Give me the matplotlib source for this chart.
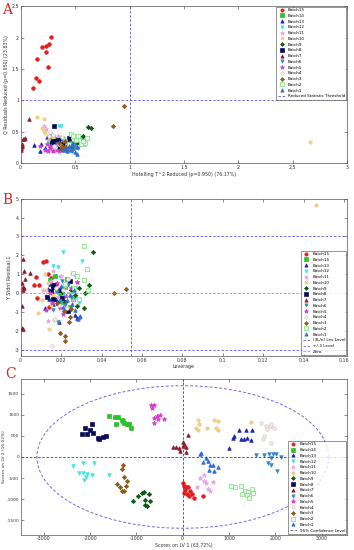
import numpy as np
import matplotlib
matplotlib.use("Agg")
import matplotlib.pyplot as plt
from matplotlib.ticker import FormatStrFormatter

plt.rcParams['axes.unicode_minus'] = False

# batch names, legend order
batches = ['Batch15', 'Batch14', 'Batch13', 'Batch12', 'Batch11', 'Batch10', 'Batch9',
           'Batch8', 'Batch7', 'Batch6', 'Batch5', 'Batch4', 'Batch3', 'Batch2', 'Batch1']

# ---- panel A : Hotelling T2 reduced vs Q residuals reduced
a_t2 = {
    'Batch15': [0.275, 0.263, 0.233, 0.199, 0.230, 0.147, 0.254, 0.138, 0.168, 0.116],
    'Batch14': [0.28, 0.29, 0.30, 0.33, 0.27, 0.35, 0.31, 0.26, 0.38, 0.34],
    'Batch13': [0.12, 0.19, 0.24, 0.27, 0.22, 0.30, 0.35, 0.18, 0.27, 0.32],
    'Batch12': [0.35, 0.37, 0.45, 0.52, 0.48, 0.42, 0.55, 0.40, 0.50, 0.46],
    'Batch11': [0.21, 0.23, 0.27, 0.32, 0.36, 0.29, 0.41, 0.25, 0.34, 0.38],
    'Batch10': [0.15, 0.21, 0.20, 0.21, 0.22, 0.30, 0.35, 0.40, 0.45, 2.66],
    'Batch9':  [0.615, 0.65, 0.575, 0.57, 0.48, 0.44, 0.40, 0.52, 0.36, 0.46],
    'Batch8':  [0.306, 0.30, 0.32, 0.38, 0.42, 0.44, 0.34, 0.29, 0.40, 0.36],
    'Batch7':  [0.08, 0.04, 0.03, 0.02, 0.01, 0.012, 0.005, 0.0, 0.006, 0.015],
    'Batch6':  [0.44, 0.47, 0.50, 0.42, 0.36, 0.53, 0.39, 0.46, 0.33, 0.49],
    'Batch5':  [0.25, 0.30, 0.18, 0.22, 0.27, 0.33, 0.35, 0.24, 0.28, 0.38],
    'Batch4':  [0.27, 0.30, 0.45, 0.41, 0.35, 0.38, 0.31, 0.26, 0.43, 0.48],
    'Batch3':  [0.95, 0.845, 0.40, 0.42, 0.38, 0.44, 0.35, 0.41, 0.37, 0.43],
    'Batch2':  [0.61, 0.58, 0.59, 0.46, 0.48, 0.51, 0.55, 0.44, 0.53, 0.57],
    'Batch1':  [0.52, 0.50, 0.46, 0.48, 0.43, 0.41, 0.47, 0.52, 0.44, 0.39],
}
a_q = {
    'Batch15': [2.01, 1.894, 1.868, 1.847, 1.772, 1.651, 1.534, 1.349, 1.307, 1.190],
    'Batch14': [0.40, 0.37, 0.42, 0.39, 0.35, 0.37, 0.33, 0.38, 0.40, 0.32],
    'Batch13': [0.29, 0.31, 0.42, 0.46, 0.24, 0.22, 0.26, 0.20, 0.29, 0.31],
    'Batch12': [0.59, 0.59, 0.39, 0.32, 0.28, 0.33, 0.41, 0.38, 0.36, 0.25],
    'Batch11': [0.60, 0.55, 0.30, 0.27, 0.35, 0.25, 0.31, 0.37, 0.43, 0.22],
    'Batch10': [0.73, 0.70, 0.56, 0.52, 0.49, 0.40, 0.35, 0.30, 0.28, 0.34],
    'Batch9':  [0.58, 0.555, 0.43, 0.37, 0.30, 0.35, 0.27, 0.33, 0.38, 0.24],
    'Batch8':  [0.59, 0.35, 0.36, 0.30, 0.28, 0.40, 0.37, 0.33, 0.32, 0.25],
    'Batch7':  [0.71, 0.40, 0.39, 0.38, 0.30, 0.27, 0.24, 0.22, 0.25, 0.28],
    'Batch6':  [0.22, 0.20, 0.26, 0.31, 0.28, 0.24, 0.35, 0.33, 0.30, 0.29],
    'Batch5':  [0.19, 0.19, 0.27, 0.21, 0.24, 0.21, 0.19, 0.31, 0.28, 0.25],
    'Batch4':  [0.50, 0.45, 0.46, 0.37, 0.31, 0.42, 0.27, 0.43, 0.29, 0.40],
    'Batch3':  [0.91, 0.60, 0.25, 0.22, 0.28, 0.30, 0.33, 0.35, 0.23, 0.27],
    'Batch2':  [0.41, 0.30, 0.32, 0.47, 0.43, 0.37, 0.30, 0.31, 0.44, 0.36],
    'Batch1':  [0.15, 0.18, 0.22, 0.25, 0.20, 0.24, 0.31, 0.26, 0.28, 0.21],
}

# ---- panel B : leverage vs Y studentized residual
b_lev = {
    'Batch15': [0.011, 0.0126, 0.0076, 0.0092, 0.0066, 0.0082, 0.0137, 0.0142, 0.015, 0.0175],
    'Batch14': [0.0145, 0.017, 0.0178, 0.0219, 0.021, 0.0244, 0.016, 0.023, 0.0195, 0.026],
    'Batch13': [0.0134, 0.012, 0.0141, 0.0155, 0.019, 0.0269, 0.028, 0.016, 0.0145, 0.0175],
    'Batch12': [0.0211, 0.0161, 0.0184, 0.0302, 0.0196, 0.0236, 0.025, 0.0275, 0.0286, 0.021],
    'Batch11': [0.0161, 0.0137, 0.0110, 0.0277, 0.0185, 0.0152, 0.022, 0.0125, 0.026, 0.020],
    'Batch10': [0.146, 0.012, 0.0087, 0.014, 0.0107, 0.0125, 0.016, 0.0135, 0.0185, 0.015],
    'Batch9':  [0.036, 0.034, 0.0318, 0.0313, 0.027, 0.025, 0.029, 0.022, 0.0205, 0.028],
    'Batch8':  [0.0244, 0.0166, 0.0161, 0.0206, 0.0185, 0.0234, 0.0162, 0.0152, 0.019, 0.013],
    'Batch7':  [0.001, 0.0016, 0.0021, 0.0046, 0.0005, 0.001, 0.0013, 0.0016, 0.0005, 0.0005, 0.001],
    'Batch6':  [0.0186, 0.0195, 0.022, 0.025, 0.018, 0.0235, 0.016, 0.027, 0.0205, 0.021],
    'Batch5':  [0.0275, 0.0278, 0.0195, 0.0125, 0.0155, 0.0225, 0.018, 0.0145, 0.025, 0.021],
    'Batch4':  [0.0153, 0.0165, 0.0172, 0.0202, 0.0252, 0.0236, 0.019, 0.021, 0.0175, 0.023],
    'Batch3':  [0.0463, 0.0521, 0.0195, 0.0219, 0.0219, 0.0239, 0.0244, 0.025, 0.0215, 0.018],
    'Batch2':  [0.0315, 0.0327, 0.0313, 0.0335, 0.0257, 0.028, 0.0265, 0.022, 0.029, 0.024],
    'Batch1':  [0.0285, 0.0293, 0.0286, 0.027, 0.0255, 0.023, 0.0245, 0.021, 0.0265, 0.020],
}
b_res = {
    'Batch15': [1.65, 1.70, 0.88, 0.44, 0.44, -0.23, 1.01, -0.70, 0.80, 0.50],
    'Batch14': [0.70, 0.92, 0.18, 0.35, -0.44, -0.70, 0.45, 0.78, -0.10, -0.30],
    'Batch13': [0.22, -0.79, -0.28, 0.10, -1.50, -1.15, -1.30, -0.55, 0.50, -0.30],
    'Batch12': [2.16, 1.45, 1.40, 1.72, 0.85, 0.48, 0.10, -0.20, -0.50, -0.10],
    'Batch11': [1.20, -1.47, 0.18, 0.59, -0.20, 0.65, 0.40, -0.15, -0.35, 0.90],
    'Batch10': [4.65, 1.01, -1.06, -1.89, -0.35, 0.20, -0.10, 0.55, 0.30, -0.60],
    'Batch9':  [2.17, 0.44, 0.0, -0.76, -0.10, 0.20, 0.30, -0.45, 0.05, -0.65],
    'Batch8':  [0.66, 0.44, 0.35, -0.24, -0.50, -0.95, -0.30, 0.10, 0.15, -0.20],
    'Batch7':  [1.81, 1.20, 0.75, 1.06, 0.53, 0.35, 0.18, 0.26, -0.67, -1.82, -1.89],
    'Batch6':  [-1.50, -0.40, -0.60, -0.20, 0.05, 0.45, -0.90, 0.30, 0.65, -0.95],
    'Batch5':  [0.90, 0.60, -0.80, -0.90, -0.50, -0.15, 0.55, 0.0, 0.30, -1.10],
    'Batch4':  [-2.79, -1.41, -1.35, -0.90, 1.05, 0.75, -0.60, 0.20, 0.30, -0.75],
    'Batch3':  [0.0, 0.21, -2.12, -2.24, -2.50, -1.50, -1.23, -0.85, -0.95, -0.50],
    'Batch2':  [2.47, 1.28, 0.71, 0.18, 1.06, 0.90, 0.30, 0.50, -0.30, -0.05],
    'Batch1':  [-1.36, -1.18, -1.25, -0.90, -0.55, -0.35, -0.10, -0.70, 0.15, 0.40],
}

# ---- panel C : scores LV1 vs LV2
c_lv1 = {
    'Batch15': [0, 22, 72, 122, 36, 93, 143, 194, 251, 430, 50, 165],
    'Batch14': [-1599, -1455, -1405, -1434, -1290, -1262, -1204, -1161, -1111, -1312],
    'Batch13': [1004, 1075, 1097, 1219, 1376, 1505, 1254, 1326, 1398, 1484],
    'Batch12': [-2366, -2151, -1921, -2244, -2151, -2065, -1957, -2136, -2079, -1584],
    'Batch11': [366, 452, 308, 509, 545, 595, 652, 459],
    'Batch10': [323, 358, 287, 337, 523, 667, 767, 717, 753, 1484],
    'Batch9':  [-882, -846, -975, -738, -1082, -824, -703, -824, -774],
    'Batch8':  [-2115, -1957, -1993, -2172, -2065, -1943, -1835, -1814, -1720, -1649],
    'Batch7':  [-208, -136, -65, 7, 22, 14, 79, 79, 115, -79],
    'Batch6':  [1584, 1763, 1857, 1907, 1957, 2014, 2122, 1835, 1907, 2029],
    'Batch5':  [-688, -631, -667, -559, -502, -616, -545, -631, -401],
    'Batch4':  [1699, 1792, 1885, 1971, 1814, 1756, 1742, 1914, 1900],
    'Batch3':  [-1297, -1312, -1262, -1419, -1348, -1219, -1312, -1276, -1204],
    'Batch2':  [1039, 1125, 1254, 1341, 1290, 1412, 1384, 1491, 1527, 1434],
    'Batch1':  [366, 401, 509, 437, 545, 581, 652, 760, 566, 667],
}
c_lv2 = {
    'Batch15': [-606, -685, -709, -709, -843, -882, -921, -882, -976, -921, -787, -803],
    'Batch14': [969, 945, 945, 772, 850, 811, 772, 787, 693, 866],
    'Batch13': [205, 457, 496, 630, 638, 630, 417, 417, 441, 402],
    'Batch12': [-213, -142, -142, -370, -370, -409, -425, -551, -472, -425],
    'Batch11': [-496, -433, -709, -614, -756, -795, -598, -559],
    'Batch10': [866, 772, 693, 630, 693, 866, 850, 693, 630, 835],
    'Batch9':  [-843, -819, -921, -882, -1055, -1024, -1055, -1150, -1157],
    'Batch8':  [693, 772, 630, 535, 551, 575, 457, 417, 472, 496],
    'Batch7':  [228, 228, 134, 354, 307, 252, 228, 118, 528, 213],
    'Batch6':  [55, 55, 71, -24, 71, 79, -8, -142, -181, -323],
    'Batch5':  [1228, 1244, 1150, 969, 992, 913, 890, 811, 898],
    'Batch4':  [811, 732, 732, 693, 654, 496, 433, 339, 772],
    'Batch3':  [-189, -291, -472, -646, -709, -685, -803, -803, -567],
    'Batch2':  [-685, -701, -685, -803, -866, -819, -898, -748, -843, -976],
    'Batch1':  [79, 94, -24, -118, -102, -197, -197, -244, -299, -323],
}

# thresholds / limits
q_lim, t2_lim = 1.0, 1.0
lev_lim = 0.0545
res_lim = 3.0
ell_a, ell_b = 3150, 1690

# marker style per batch (marker, face, edge)
sty = {
    'Batch15': ('o', '#e41c1c', '#e41c1c'),
    'Batch14': ('s', '#2cc02c', '#2cc02c'),
    'Batch13': ('^', '#1c24b0', '#1c24b0'),
    'Batch12': ('v', '#44e4e4', '#44e4e4'),
    'Batch11': ('*', '#e6a6ec', '#e6a6ec'),
    'Batch10': ('h', '#f2d68c', '#e8c878'),
    'Batch9':  ('D', '#0e5a12', '#0e5a12'),
    'Batch8':  ('s', '#0a0a58', '#0a0a58'),
    'Batch7':  ('^', '#8c1c2e', '#8c1c2e'),
    'Batch6':  ('v', '#3a88c8', '#3a88c8'),
    'Batch5':  ('*', '#d43ccc', '#d43ccc'),
    'Batch4':  ('o', '#f4ebe8', '#dccac6'),
    'Batch3':  ('D', '#8c5c1e', '#8c5c1e'),
    'Batch2':  ('s', '#e6f8e6', '#80dc80'),
    'Batch1':  ('^', '#2e6ed0', '#2e6ed0'),
}

FS = 3.4
fig = plt.figure(figsize=(3.54, 5.5), dpi=100)


def scatter_batches(ax, xs, ys):
    for b in batches:
        m, fc, ec = sty[b]
        ms = 3.4 if m in ('*',) else 2.6
        if m == 'D':
            ms = 2.2
        ax.plot(xs[b], ys[b], ls='none', marker=m, ms=ms, mfc=fc, mec=ec, mew=0.5, label=b)


def style(ax):
    ax.tick_params(direction='in', length=2, width=0.4, labelsize=FS, pad=1.2,
                   top=True, right=True, colors='#333')
    for s in ax.spines.values():
        s.set_linewidth(0.5)
        s.set_color('#555')


def leg(ax, loc):
    l = ax.legend(loc=loc, fontsize=3.0, frameon=True, fancybox=False, edgecolor='#444',
                  borderpad=0.35, labelspacing=0.42, handlelength=1.8, handletextpad=0.6,
                  borderaxespad=0.15, markerscale=0.9)
    l.get_frame().set_linewidth(0.5)


# ---------------- A
axA = fig.add_axes([0.0585, 0.703, 0.922, 0.286])
scatter_batches(axA, a_t2, a_q)
axA.axvline(t2_lim, color='#5a5ae0', ls='--', lw=0.6, dashes=(3, 2))
axA.axhline(q_lim, color='#5a5ae0', ls='--', lw=0.6, dashes=(3, 2), label='Reduced Statistic Threshold')
axA.set_xlim(0, 3)
axA.set_ylim(0, 2.5)
axA.set_xticks(np.arange(0, 3.01, 0.5))
axA.set_yticks(np.arange(0, 2.51, 0.5))
axA.xaxis.set_major_formatter(FormatStrFormatter('%g'))
axA.yaxis.set_major_formatter(FormatStrFormatter('%g'))
axA.set_xlabel('Hotelling T^2 Reduced (p=0.950) (76.17%)', fontsize=FS, labelpad=1.5, color='#333')
axA.set_ylabel('Q Residuals Reduced (p=0.950) (23.83%)', fontsize=FS, labelpad=2, color='#333')
style(axA)
leg(axA, 'upper right')

# ---------------- B
axB = fig.add_axes([0.0585, 0.353, 0.922, 0.286])
scatter_batches(axB, b_lev, b_res)
axB.axvline(lev_lim, color='#5a5ae0', ls='--', lw=0.6, dashes=(3, 2), label='(3L/n) Lev Level')
axB.axhline(res_lim, color='#5a5ae0', ls='--', lw=0.6, dashes=(3, 2), label='+/-3 Level')
axB.axhline(-res_lim, color='#5a5ae0', ls='--', lw=0.6, dashes=(3, 2))
axB.axhline(0, color='#50d050', ls='--', lw=0.6, dashes=(3, 2), label='Zero')
axB.set_xlim(0, 0.1615)
axB.set_ylim(-3.3, 5)
axB.set_xticks(np.arange(0, 0.161, 0.02))
axB.set_yticks(np.arange(-3, 5.1, 1))
axB.xaxis.set_major_formatter(FormatStrFormatter('%g'))
axB.yaxis.set_major_formatter(FormatStrFormatter('%g'))
axB.set_xlabel('Leverage', fontsize=FS, labelpad=1.0, color='#333')
axB.set_ylabel('Y Stdnt Residual 1', fontsize=FS, labelpad=2, color='#333')
style(axB)
leg(axB, 'lower right')

# ---------------- C
axC = fig.add_axes([0.0585, 0.028, 0.922, 0.283])
scatter_batches(axC, c_lv1, c_lv2)
axC.axvline(0, color='#444', ls='--', lw=0.6, dashes=(3, 2))
axC.axhline(0, color='#444', ls='--', lw=0.6, dashes=(3, 2))
t = np.linspace(0, 2 * np.pi, 400)
axC.plot(ell_a * np.cos(t), ell_b * np.sin(t), color='#6a6ae6', ls='--', lw=0.7,
         dashes=(3, 2), label='95% Confidence Level')
axC.set_xlim(-3500, 3550)
axC.set_ylim(-1840, 1850)
axC.set_xticks(np.arange(-3000, 3001, 1000))
axC.set_yticks(np.arange(-1500, 1501, 500))
axC.tick_params(axis='y', labelsize=3.2)
axC.set_xlabel('Scores on LV 1 (63.72%)', fontsize=FS, labelpad=1.0, color='#333')
axC.set_ylabel('Scores on LV 2 (16.02%)', fontsize=3.2, labelpad=0.5, color='#333')
style(axC)
axC.tick_params(axis='y', labelsize=3.2)
leg(axC, 'lower right')

# panel letters
for lab, x, y in (('A', 0.006, 0.982), ('B', 0.006, 0.636), ('C', 0.014, 0.32)):
    fig.text(x, y, lab, fontsize=10, color='#e02424', family='DejaVu Serif', va='center')

fig.savefig('out.png', dpi=100)
